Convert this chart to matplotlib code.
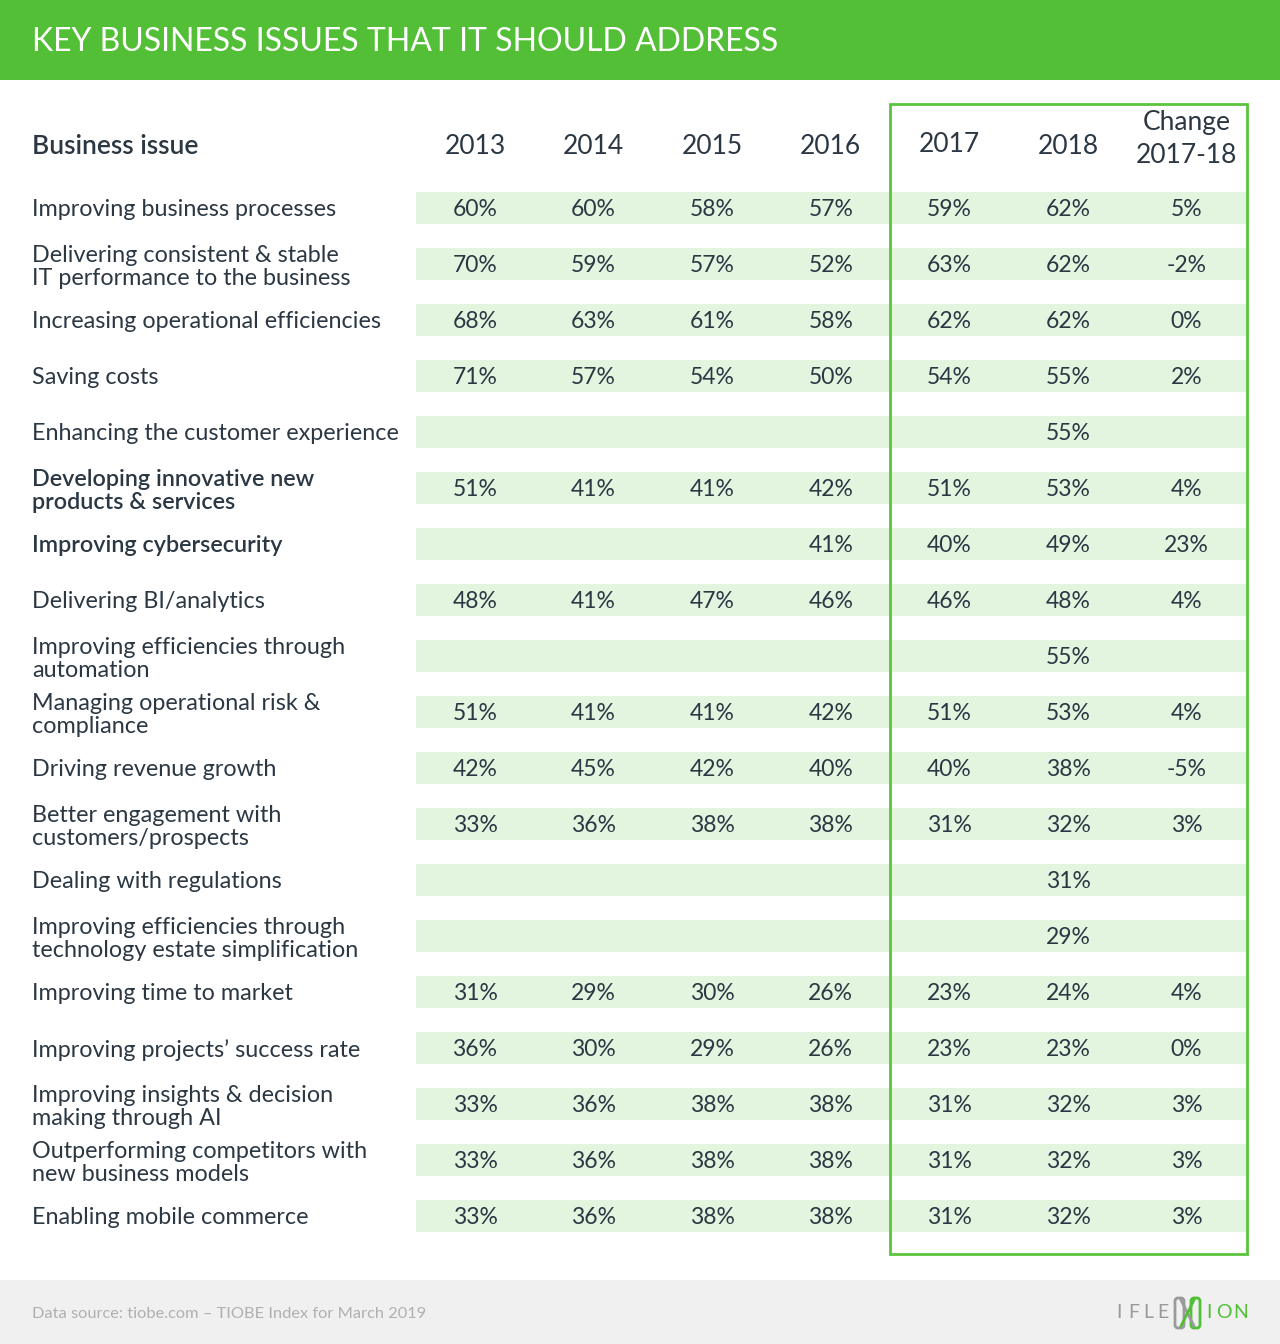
import matplotlib
matplotlib.use("Agg")
import matplotlib.pyplot as plt
from matplotlib.patches import Rectangle, FancyBboxPatch

# ---------------- data ----------------
title = "KEY BUSINESS ISSUES THAT IT SHOULD ADDRESS"
col_header_issue = "Business issue"
col_headers = ["2013", "2014", "2015", "2016", "2017", "2018", "Change\n2017-18"]

issues = [
    "Improving business processes",
    "Delivering consistent & stable\nIT performance to the business",
    "Increasing operational efficiencies",
    "Saving costs",
    "Enhancing the customer experience",
    "Developing innovative new\nproducts & services",
    "Improving cybersecurity",
    "Delivering BI/analytics",
    "Improving efficiencies through\nautomation",
    "Managing operational risk &\ncompliance",
    "Driving revenue growth",
    "Better engagement with\ncustomers/prospects",
    "Dealing with regulations",
    "Improving efficiencies through\ntechnology estate simplification",
    "Improving time to market",
    "Improving projects\u2019 success rate",
    "Improving insights & decision\nmaking through AI",
    "Outperforming competitors with\nnew business models",
    "Enabling mobile commerce",
]
bold_issues = {"Developing innovative new\nproducts & services", "Improving cybersecurity"}

N = None
v2013 = [60, 70, 68, 71, N, 51, N, 48, N, 51, 42, 33, N, N, 31, 36, 33, 33, 33]
v2014 = [60, 59, 63, 57, N, 41, N, 41, N, 41, 45, 36, N, N, 29, 30, 36, 36, 36]
v2015 = [58, 57, 61, 54, N, 41, N, 47, N, 41, 42, 38, N, N, 30, 29, 38, 38, 38]
v2016 = [57, 52, 58, 50, N, 42, 41, 46, N, 42, 40, 38, N, N, 26, 26, 38, 38, 38]
v2017 = [59, 63, 62, 54, N, 51, 40, 46, N, 51, 40, 31, N, N, 23, 23, 31, 31, 31]
v2018 = [62, 62, 62, 55, 55, 53, 49, 48, 55, 53, 38, 32, 31, 29, 24, 23, 32, 32, 32]
change = [5, -2, 0, 2, N, 4, 23, 4, N, 4, -5, 3, N, N, 4, 0, 3, 3, 3]

source_text = "Data source: tiobe.com \u2013 TIOBE Index for March 2019"

# ---------------- style ----------------
GREEN = "#52bf36"
BOX_GREEN = "#5cc43c"
STRIPE = "#e3f4df"
TEXT = "#2b3844"
FOOT_BG = "#f0f0f0"
FONT = "Lato"

W, H = 1280, 1344
fig = plt.figure(figsize=(W / 100, H / 100), dpi=100)
ax = fig.add_axes([0, 0, 1, 1])
ax.set_xlim(0, W)
ax.set_ylim(H, 0)
ax.axis("off")

# header band
ax.add_patch(Rectangle((0, 0), W, 80, color=GREEN, lw=0))
ax.text(32, 42, title, color="white", fontsize=23, family=FONT,
        fontweight="normal", va="center", ha="left")

# footer band
ax.add_patch(Rectangle((0, 1280), W, 64, color=FOOT_BG, lw=0))
ax.text(32, 1314, source_text, color="#b0b0b0", fontsize=11.8, family=FONT,
        va="center", ha="left")

# logo
logo_gray = "#9a9a9a"
for i, ch in enumerate("IFLE"):
    ax.text(1119 + i * 14.5, 1313, ch, color=logo_gray, fontsize=14, family=FONT,
            va="center", ha="center")
ax.add_patch(FancyBboxPatch((1175, 1298), 9, 30, boxstyle="round,pad=0,rounding_size=3",
                            fill=False, ec=logo_gray, lw=2))
ax.add_patch(FancyBboxPatch((1191, 1298), 9, 30, boxstyle="round,pad=0,rounding_size=3",
                            fill=False, ec=GREEN, lw=2))
ax.plot([1181, 1194], [1300, 1326], color=logo_gray, lw=2)
ax.plot([1181, 1194], [1326, 1300], color=GREEN, lw=2)
for x, ch in zip([1209, 1224, 1241], "ION"):
    ax.text(x, 1313, ch, color=GREEN, fontsize=14, family=FONT,
            va="center", ha="center")

# table layout
row0 = 208
row_step = 56
stripe_h = 32
stripe_x0, stripe_x1 = 416, 1246
col_x0 = 475
col_step = 118.6
header_y = 147

cols = [v2013, v2014, v2015, v2016, v2017, v2018, change]

ax.text(32, header_y, col_header_issue, color=TEXT, fontsize=19, family=FONT,
        fontweight="semibold", va="center", ha="left")
for j, h in enumerate(col_headers):
    x = col_x0 + j * col_step
    yy = header_y - (2 if j == 4 else 0) - (8 if "\n" in h else 0)
    ax.text(x, yy, h, color=TEXT, fontsize=19, family=FONT, va="center",
            ha="center", linespacing=1.4)

for i, name in enumerate(issues):
    y = row0 + i * row_step
    ax.add_patch(Rectangle((stripe_x0, y - stripe_h / 2), stripe_x1 - stripe_x0,
                           stripe_h, color=STRIPE, lw=0, zorder=0))
    ax.text(32, y + 2 + (1 if "\n" in name else 0), name, color=TEXT, fontsize=16.8,
            family=FONT, fontweight="semibold" if name in bold_issues else "normal",
            va="center", ha="left", linespacing=1.1)
    for j, col in enumerate(cols):
        v = col[i]
        if v is None:
            continue
        ax.text(col_x0 + j * col_step, y + 2, f"{v}%", color=TEXT, fontsize=16.5,
                family=FONT, va="center", ha="center")

# green highlight box around 2017-2018 columns
ax.add_patch(Rectangle((890, 104), 1247 - 890, 1254 - 104, fill=False,
                       ec=BOX_GREEN, lw=2, zorder=3))

fig.savefig("out.png", dpi=100, facecolor="white")
